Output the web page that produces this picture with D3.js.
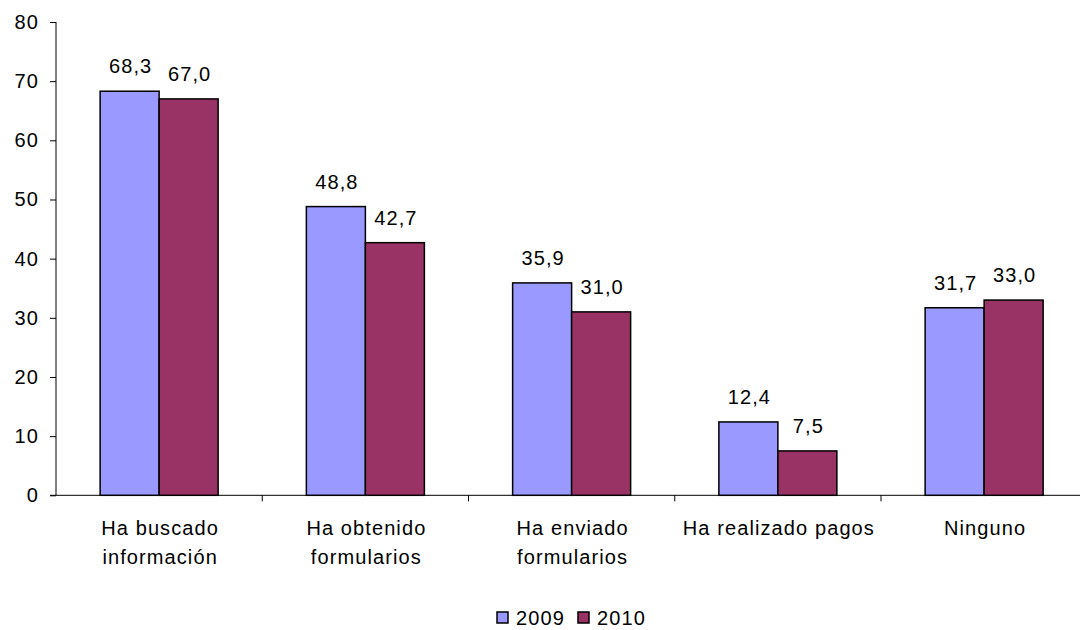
<!DOCTYPE html>
<html><head><meta charset="utf-8">
<script src="https://cdn.jsdelivr.net/npm/d3@7"></script>
<style>body{margin:0;background:#fff;} text{font-family:"Liberation Sans",Arial,sans-serif;fill:#000;letter-spacing:1.1px;}</style>
</head><body>
<svg id="c" width="1080" height="630"></svg>
<script>
const categories = [["Ha buscado","información"],["Ha obtenido","formularios"],["Ha enviado","formularios"],["Ha realizado pagos"],["Ninguno"]];
const seriesNames = ["2009","2010"];
const values2009 = [68.3,48.8,35.9,12.4,31.7];
const values2010 = [67.0,42.7,31.0,7.5,33.0];
const yTicks = [0,10,20,30,40,50,60,70,80];
const colors = ["#9999FF","#993366"];

(function(){
const svg = d3.select("#c");
const mLeft = 56, mTop = 22, mBottom = 495.3, bandW = 206.25;
const x = d3.scaleBand().domain(d3.range(categories.length)).range([mLeft, mLeft + bandW*categories.length]).paddingInner(0).paddingOuter(0);
const y = d3.scaleLinear().domain([0,80]).range([mBottom, mTop]);
const barW = 59;
const fs = 20;

// y axis
const yAxis = svg.append("g").attr("transform",`translate(${mLeft},0)`)
  .call(d3.axisLeft(y).tickValues(yTicks).tickSize(6).tickPadding(11).tickFormat(d3.format("d")));
yAxis.select(".domain").attr("stroke","#000").attr("d",`M0,${mTop}V${mBottom}`);
yAxis.selectAll(".tick line").attr("stroke","#000");
yAxis.selectAll("text").style("font-size",fs+"px").attr("font-family","Liberation Sans, Arial");

// x axis line
svg.append("line").attr("x1",mLeft-6).attr("x2",1080).attr("y1",mBottom).attr("y2",mBottom).attr("stroke","#000");
d3.range(1, categories.length+1).forEach(i=>{
  const xx = mLeft + bandW*i;
  svg.append("line").attr("x1",xx).attr("x2",xx).attr("y1",mBottom).attr("y2",mBottom+6).attr("stroke","#000");
});

const series = [values2009, values2010];
series.forEach((vals,s)=>{
  const g = svg.append("g");
  vals.forEach((v,i)=>{
    const cx = x(i) + x.bandwidth()/2;
    const bx = cx - barW + s*barW;
    g.append("rect").attr("x",bx).attr("y",y(v)).attr("width",barW).attr("height",mBottom-y(v))
      .attr("fill",colors[s]).attr("stroke","#000").attr("stroke-width",1.5);
    g.append("text").attr("x",bx+barW/2+1).attr("y",y(v)-18).attr("text-anchor","middle")
      .style("font-size",fs+"px").text(d3.format(".1f")(v).replace(".",","));
  });
});

// category labels
categories.forEach((lines,i)=>{
  const cx = x(i) + x.bandwidth()/2;
  const t = svg.append("text").attr("text-anchor","middle").style("font-size",fs+"px");
  lines.forEach((l,k)=>{
    t.append("tspan").attr("x",cx+1).attr("y",535 + k*29).text(l);
  });
});

// legend
const leg = svg.append("g");
const legX = [497, 578];
seriesNames.forEach((n,s)=>{
  leg.append("rect").attr("x",legX[s]).attr("y",612).attr("width",11).attr("height",11)
    .attr("fill",colors[s]).attr("stroke","#000").attr("stroke-width",1.5);
  leg.append("text").attr("x",legX[s]+19).attr("y",625).style("font-size",fs+"px").text(n);
});
})();
</script>
</body></html>
